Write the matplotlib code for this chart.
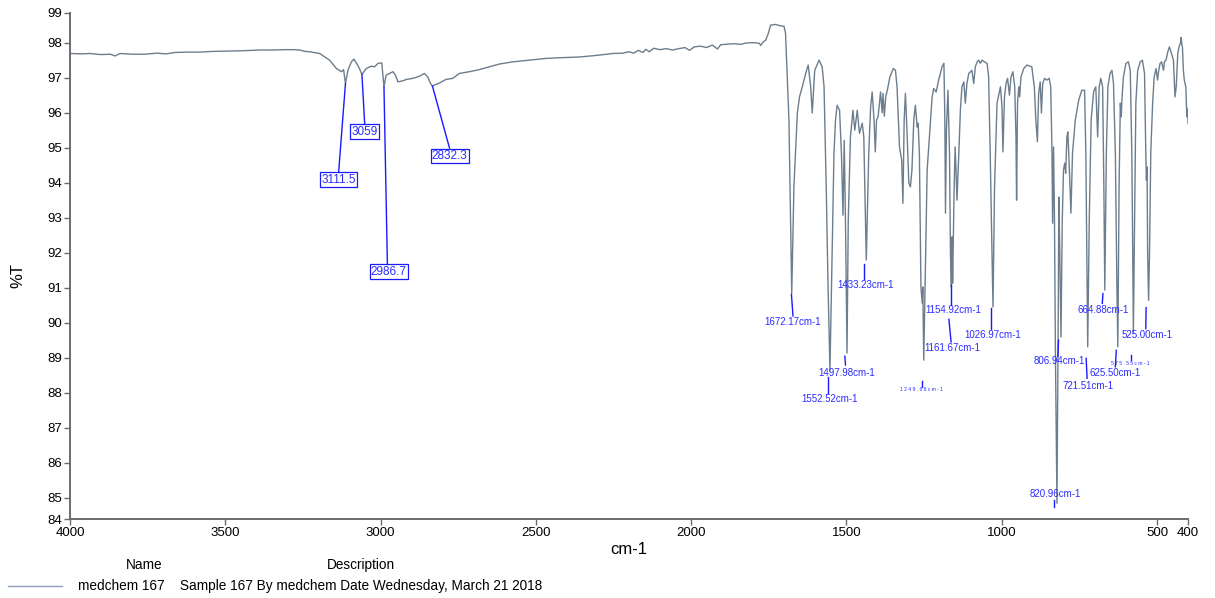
import matplotlib
matplotlib.use('Agg')
import matplotlib.pyplot as plt

plt.rcParams['font.family'] = ['Liberation Sans', 'DejaVu Sans']

# spectrum (cm-1, %T)
wavenumber = [
    4000, 3960, 3936, 3900, 3870, 3855, 3839, 3800, 3759, 3720,
    3690, 3662, 3620, 3582, 3540, 3486, 3440, 3389, 3350, 3309,
    3280, 3260, 3244, 3228, 3196, 3164, 3142, 3126, 3119, 3113,
    3105, 3094, 3086, 3076, 3068, 3060, 3046, 3030, 3019, 3008,
    2996, 2989, 2982, 2971, 2960, 2952, 2944, 2928, 2917, 2896,
    2875, 2859, 2848, 2840, 2833, 2824, 2810, 2789, 2768, 2746,
    2714, 2682, 2650, 2617, 2576, 2520, 2467, 2420, 2360, 2300,
    2254, 2220, 2200, 2185, 2170, 2155, 2146, 2135, 2120, 2100,
    2080, 2060, 2039, 2020, 2005, 1990, 1970, 1950, 1932, 1915,
    1905, 1880, 1860, 1840, 1824, 1800, 1780, 1776, 1768, 1760,
    1752, 1744, 1728, 1712, 1701, 1696, 1685, 1676, 1669, 1658,
    1651, 1642, 1631, 1623, 1615, 1610, 1602, 1588, 1578, 1572,
    1565, 1559, 1553, 1546, 1540, 1535, 1530, 1522, 1516, 1511,
    1507, 1503, 1498, 1494, 1487, 1479, 1473, 1465, 1458, 1449,
    1444, 1436, 1428, 1422, 1417, 1411, 1407, 1403, 1398, 1390,
    1385, 1382, 1378, 1373, 1368, 1360, 1349, 1342, 1337, 1329,
    1322, 1318, 1314, 1310, 1305, 1299, 1294, 1289, 1283, 1278,
    1272, 1269, 1265, 1260, 1256, 1254, 1251, 1245, 1240, 1235,
    1229, 1224, 1219, 1211, 1203, 1192, 1186, 1183, 1181, 1178,
    1173, 1168, 1165, 1162, 1160, 1158, 1153, 1150, 1147, 1144,
    1138, 1133, 1128, 1122, 1117, 1112, 1106, 1096, 1090, 1085,
    1079, 1074, 1069, 1063, 1055, 1047, 1042, 1037, 1031, 1028,
    1023, 1015, 1004, 999, 996, 991, 986, 981, 975, 970,
    964, 958, 954, 952, 949, 945, 942, 938, 929, 919,
    903, 895, 890, 885, 881, 876, 872, 868, 862, 854,
    847, 842, 838, 836, 833, 830, 827, 824, 822, 818,
    816, 813, 809, 805, 801, 797, 794, 790, 787, 782,
    777, 772, 763, 752, 742, 733, 729, 726, 723, 718,
    712, 704, 697, 691, 686, 681, 675, 671, 668, 663,
    658, 651, 645, 640, 634, 629, 626, 622, 618, 615,
    613, 608, 600, 592, 586, 581, 578, 576, 572, 568,
    562, 554, 547, 540, 536, 534, 532, 530, 527, 524,
    520, 514, 509, 503, 498, 495, 490, 485, 479, 476,
    471, 465, 460, 455, 447, 442, 438, 433, 429, 424,
    422, 420, 418, 415, 412, 407, 404, 401, 400,
]
transmittance = [
    97.69, 97.68, 97.69, 97.66, 97.67, 97.62, 97.69, 97.67, 97.67, 97.70,
    97.68, 97.72, 97.73, 97.73, 97.75, 97.76, 97.77, 97.79, 97.79, 97.80,
    97.80, 97.79, 97.75, 97.74, 97.69, 97.50, 97.26, 97.17, 97.23, 96.83,
    97.21, 97.45, 97.53, 97.39, 97.26, 97.09, 97.26, 97.33, 97.31, 97.41,
    97.42, 96.74, 97.07, 97.12, 97.17, 97.07, 96.88, 96.91, 96.95, 96.98,
    97.04, 97.12, 97.02, 96.85, 96.76, 96.80, 96.85, 96.95, 96.98, 97.12,
    97.17, 97.23, 97.31, 97.39, 97.45, 97.50, 97.55, 97.57, 97.59, 97.64,
    97.69, 97.70, 97.74, 97.70, 97.78, 97.72, 97.81, 97.74, 97.84, 97.80,
    97.83, 97.79, 97.83, 97.86, 97.78, 97.88, 97.90, 97.86, 97.93, 97.82,
    97.94, 97.96, 97.97, 97.95, 97.99, 98.00, 97.98, 97.92, 98.02, 98.07,
    98.25, 98.50, 98.52, 98.48, 98.47, 98.27, 95.79, 90.84, 93.88, 95.99,
    96.45, 96.74, 97.12, 97.36, 96.74, 95.99, 97.21, 97.50, 97.31, 96.74,
    93.88, 91.02, 88.64, 91.99, 94.84, 95.79, 96.21, 96.07, 94.84, 93.07,
    95.21, 92.93, 89.13, 92.93, 95.31, 96.07, 95.50, 96.07, 95.41, 95.70,
    95.31, 91.79, 94.84, 96.17, 96.59, 95.79, 94.88, 95.79, 95.88, 96.59,
    96.00, 96.55, 95.90, 96.47, 96.65, 97.02, 97.26, 97.21, 96.74, 95.02,
    94.64, 93.41, 95.79, 96.55, 95.50, 93.99, 93.88, 94.36, 95.79, 96.21,
    95.59, 95.70, 94.84, 91.02, 90.56, 91.02, 88.93, 91.99, 94.36, 95.02,
    95.79, 96.45, 96.69, 96.59, 96.93, 97.31, 97.41, 95.79, 93.13, 95.50,
    96.64, 94.84, 91.99, 91.02, 92.45, 91.13, 93.88, 95.02, 94.36, 93.50,
    94.84, 96.07, 96.74, 96.88, 96.27, 96.83, 97.12, 97.21, 96.83, 97.31,
    97.45, 97.50, 97.41, 97.50, 97.45, 97.41, 97.02, 94.84, 91.99, 90.45,
    93.88, 96.27, 96.74, 96.17, 94.88, 96.45, 96.83, 96.98, 96.50, 97.02,
    97.17, 96.74, 95.31, 93.50, 96.27, 96.74, 96.45, 97.02, 97.26, 97.36,
    97.31, 96.74, 95.79, 95.17, 96.55, 96.88, 95.99, 96.83, 96.98, 96.93,
    96.98, 96.74, 94.84, 92.84, 95.02, 92.93, 89.13, 86.50, 84.84, 90.07,
    93.59, 91.99, 89.59, 92.93, 94.36, 94.56, 94.27, 95.31, 95.45, 94.36,
    93.13, 94.84, 95.79, 96.36, 96.64, 96.64, 94.84, 91.99, 89.31, 92.93,
    95.79, 96.60, 96.74, 95.31, 96.74, 96.98, 96.74, 93.88, 90.93, 94.84,
    96.74, 97.12, 97.21, 96.83, 94.84, 91.02, 89.31, 93.88, 96.27, 95.88,
    96.36, 97.02, 97.41, 97.45, 97.21, 94.84, 91.99, 89.70, 92.93, 96.27,
    97.21, 97.45, 97.50, 97.12, 94.84, 94.07, 94.45, 91.99, 90.64, 91.99,
    94.84, 96.27, 97.02, 97.26, 96.93, 97.17, 97.41, 97.45, 97.21, 97.45,
    97.50, 97.74, 97.88, 97.74, 97.50, 96.45, 96.74, 97.69, 97.88, 98.00,
    98.15, 97.95, 97.88, 97.21, 96.93, 96.74, 95.88, 96.12, 95.69,
]

# boxed picks in the C-H stretch region
box_texts = ['3111.5', '3059', '2986.7', '2832.3']
# small peak labels
peak_texts = ['1672.17cm-1', '1433.23cm-1', '1552.52cm-1', '1497.98cm-1',
              '1154.92cm-1', '1161.67cm-1', '1026.97cm-1', '1 2 4 9 . 6 8 c m - 1',
              '806.94cm-1', '820.96cm-1', '721.51cm-1', '664.88cm-1',
              '625.50cm-1', '5 7 5 . 5 5 c m - 1', '525.00cm-1']

y_ticks = [84.39, 85, 86, 87, 88, 89, 90, 91, 92, 93, 94, 95, 96, 97, 98, 98.86]
y_tick_labels = ['84', '85', '86', '87', '88', '89', '90', '91', '92', '93',
                 '94', '95', '96', '97', '98', '99']
x_ticks = [4000, 3500, 3000, 2500, 2000, 1500, 1000, 500, 400]

# layout of the annotations: (line start, line end, text pos)
box_layout = [
    ((3113, 96.83), (3135, 94.30), (3135, 94.09)),
    ((3060, 97.09), (3051, 95.67), (3051, 95.46)),
    ((2989, 96.74), (2978, 91.67), (2973, 91.46)),
    ((2833, 96.76), (2778, 94.99), (2777, 94.77)),
]
peak_layout = [
    ((1677, 90.81), (1672, 90.19), (1672, 90.01), 7),
    ((1442, 91.69), (1442, 91.26), (1437, 91.09), 7),
    ((1560, 88.45), (1560, 87.98), (1555, 87.83), 7),
    ((1505, 89.04), (1503, 88.79), (1499, 88.57), 7),
    ((1162, 91.07), (1162, 90.50), (1155, 90.36), 7),
    ((1170, 90.10), (1163, 89.45), (1158, 89.28), 7),
    ((1034, 90.42), (1034, 89.83), (1030, 89.66), 7),
    ((1258, 88.33), (1258, 88.17), (1258, 88.09), 3.6),
    ((817, 89.50), (819, 89.04), (814, 88.91), 7),
    ((830, 84.92), (830, 84.74), (826, 85.10), 7),
    ((728, 88.98), (725, 88.41), (722, 88.19), 7),
    ((674, 90.83), (676, 90.55), (674, 90.36), 7),
    ((631, 89.21), (634, 88.74), (634, 88.57), 7),
    ((584, 89.07), (584, 88.93), (586, 88.84), 3.6),
    ((535, 90.43), (536, 89.83), (531, 89.66), 7),
]

blue = '#2b2bff'
axis_gray = '#6b6b6b'

fig = plt.figure(figsize=(12.15, 5.98), dpi=100)
ax = fig.add_axes([0.0576, 0.1321, 0.9202, 0.8469])

ax.plot(wavenumber, transmittance, color='#6c7d8d', lw=1.0)

for txt, (p0, p1, pt) in zip(box_texts, box_layout):
    ax.plot([p0[0], p1[0]], [p0[1], p1[1]], color='#1a1aff', lw=1.0)
    ax.text(pt[0], pt[1], txt, color=blue, fontsize=8.5, ha='center', va='center',
            bbox=dict(boxstyle='square,pad=0.1', fc='white', ec='#1a1aff', lw=0.9))

for txt, (p0, p1, pt, fs) in zip(peak_texts, peak_layout):
    ax.plot([p0[0], p1[0]], [p0[1], p1[1]], color='#1a1aff', lw=1.0, clip_on=False)
    ax.text(pt[0], pt[1], txt, color=blue, fontsize=fs, ha='center', va='center',
            clip_on=False)

ax.set_xlim(4000, 400)
ax.set_ylim(84.39, 98.86)
ax.set_xticks(x_ticks)
ax.set_xticklabels([str(v) for v in x_ticks])
ax.set_yticks(y_ticks)
ax.set_yticklabels(y_tick_labels)

for side in ['top', 'right']:
    ax.spines[side].set_visible(False)
for side in ['left', 'bottom']:
    ax.spines[side].set_color(axis_gray)
    ax.spines[side].set_linewidth(1.4)
ax.tick_params(direction='out', length=4, width=1, color=axis_gray,
               labelsize=9.5, pad=1.5)

fig.text(0.5177, 0.0803, 'cm-1', fontsize=12, ha='center', va='center')
fig.text(0.0148, 0.54, '%T', fontsize=12, ha='center', va='center', rotation=90)

# legend block under the plot
fig.text(0.1185, 0.0552, 'Name', fontsize=9.8, ha='center', va='center')
fig.text(0.297, 0.0552, 'Description', fontsize=9.8, ha='center', va='center')
fig.lines.append(plt.Line2D([0.0066, 0.051], [0.0201, 0.0201], color='#8da0b8',
                            lw=1.0, transform=fig.transFigure))
fig.text(0.0642, 0.0201, 'medchem 167', fontsize=9.8, ha='left', va='center')
fig.text(0.148, 0.0201, 'Sample 167 By medchem Date Wednesday, March 21 2018',
         fontsize=9.8, ha='left', va='center')

fig.savefig('out.png', dpi=100)
